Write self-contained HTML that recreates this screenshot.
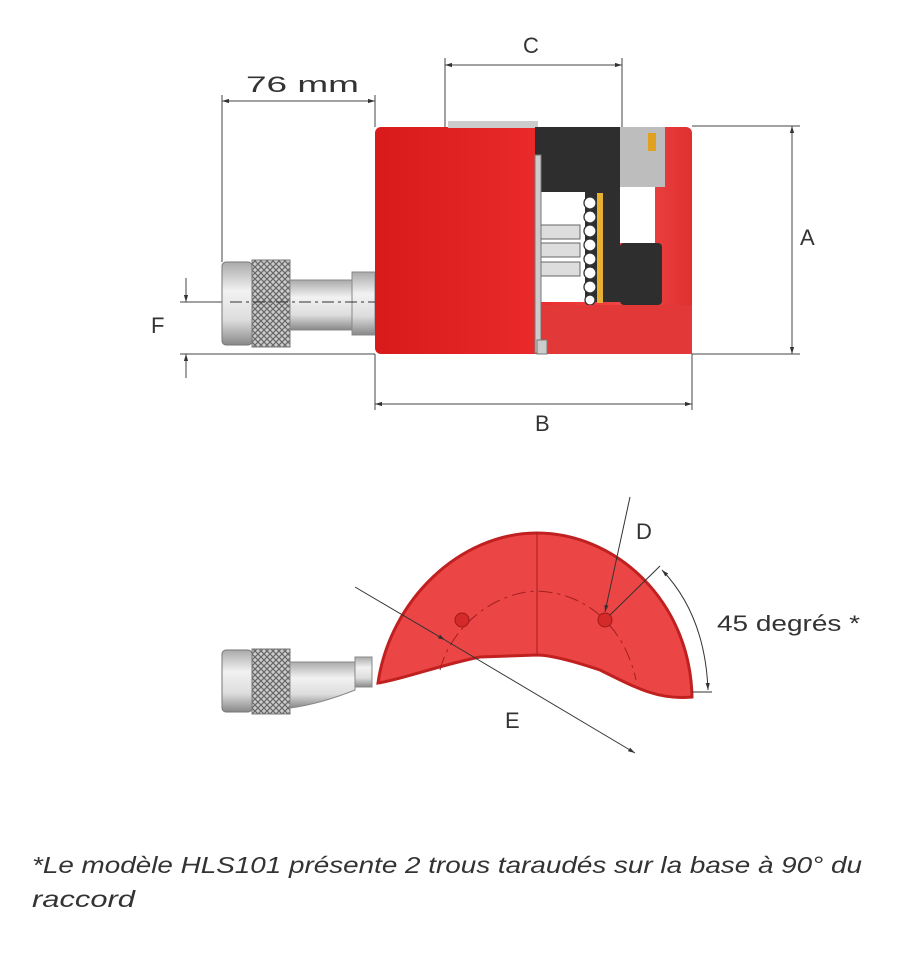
<!DOCTYPE html>
<html><head><style>
html,body{margin:0;padding:0;background:#fff;}
svg{display:block;}
text{font-family:"Liberation Sans",sans-serif;fill:#333;}
</style></head><body>
<svg width="900" height="962" viewBox="0 0 900 962" xmlns="http://www.w3.org/2000/svg">
<defs>
<linearGradient id="red" x1="0" x2="1" y1="0" y2="0">
<stop offset="0" stop-color="#d81a1a"/><stop offset="0.5" stop-color="#ea2a2a"/><stop offset="0.8" stop-color="#f04848"/><stop offset="1" stop-color="#e03030"/>
</linearGradient>
<linearGradient id="steel" x1="0" x2="0" y1="0" y2="1">
<stop offset="0" stop-color="#aaa"/><stop offset="0.35" stop-color="#f2f2f2"/><stop offset="0.7" stop-color="#ddd"/><stop offset="1" stop-color="#888"/>
</linearGradient>
<pattern id="knurl" width="6" height="6" patternUnits="userSpaceOnUse">
<rect width="6" height="6" fill="#ccc"/><path d="M0 0L6 6M6 0L0 6" stroke="#666" stroke-width="1.2"/>
</pattern>
<marker id="ar" viewBox="0 0 10 10" refX="10" refY="5" markerWidth="7" markerHeight="7" orient="auto-start-reverse"><path d="M0 2L10 5L0 8z" fill="#333"/></marker>
</defs>
<g stroke="#444" stroke-width="1" fill="none">
<line x1="222" y1="95" x2="222" y2="262"/><line x1="375" y1="95" x2="375" y2="127"/>
<line x1="222" y1="101" x2="375" y2="101" marker-start="url(#ar)" marker-end="url(#ar)"/>
<line x1="445" y1="58" x2="445" y2="127"/><line x1="622" y1="58" x2="622" y2="127"/>
<line x1="445" y1="65" x2="622" y2="65" marker-start="url(#ar)" marker-end="url(#ar)"/>
<line x1="692" y1="126" x2="800" y2="126"/><line x1="692" y1="354" x2="800" y2="354"/>
<line x1="792" y1="126" x2="792" y2="354" marker-start="url(#ar)" marker-end="url(#ar)"/>
<line x1="375" y1="354" x2="375" y2="410"/><line x1="692" y1="354" x2="692" y2="410"/>
<line x1="375" y1="404" x2="692" y2="404" marker-start="url(#ar)" marker-end="url(#ar)"/>
<line x1="180" y1="302" x2="222" y2="302"/><line x1="180" y1="354" x2="375" y2="354"/>
<line x1="186" y1="278" x2="186" y2="302" marker-end="url(#ar)"/><line x1="186" y1="378" x2="186" y2="354" marker-end="url(#ar)"/>
</g>
<text x="246" y="92" font-size="22" textLength="113" lengthAdjust="spacingAndGlyphs">76 mm</text>
<text x="523" y="53" font-size="22">C</text>
<text x="800" y="245" font-size="22">A</text>
<text x="535" y="431" font-size="22">B</text>
<text x="151" y="333" font-size="22">F</text>
<rect x="222" y="262" width="30" height="83" rx="4" fill="url(#steel)" stroke="#777"/>
<rect x="252" y="260" width="38" height="87" fill="url(#knurl)" stroke="#777"/>
<rect x="290" y="280" width="62" height="50" fill="url(#steel)" stroke="#888"/>
<rect x="352" y="272" width="23" height="63" fill="url(#steel)" stroke="#888"/>
<line x1="230" y1="302" x2="415" y2="302" stroke="#333" stroke-dasharray="12 4 3 4"/>
<rect x="375" y="127" width="317" height="227" rx="6" fill="url(#red)"/>
<rect x="448" y="121" width="90" height="7" fill="#ccc"/>
<rect x="535" y="127" width="85" height="175" fill="#2e2e2e"/>
<rect x="620" y="243" width="42" height="62" rx="4" fill="#2e2e2e"/>
<rect x="620" y="127" width="45" height="60" fill="#bdbdbd"/>
<rect x="648" y="133" width="8" height="18" fill="#e0a020"/>
<rect x="620" y="187" width="35" height="56" fill="#fff"/>
<rect x="540" y="192" width="45" height="110" fill="#fff"/>
<g fill="#ddd" stroke="#666"><rect x="540" y="225" width="40" height="14"/><rect x="540" y="243" width="40" height="14"/><rect x="540" y="262" width="40" height="14"/></g>
<rect x="597" y="193" width="6" height="110" fill="#e8b030"/>
<g fill="#fff" stroke="#333" stroke-width="1.3">
<circle cx="590" cy="203" r="6"/><circle cx="590" cy="217" r="6"/><circle cx="590" cy="231" r="6"/><circle cx="590" cy="245" r="6"/><circle cx="590" cy="259" r="6"/><circle cx="590" cy="273" r="6"/><circle cx="590" cy="287" r="6"/><circle cx="590" cy="300" r="5"/></g>
<rect x="535" y="155" width="6" height="198" fill="#ccc" stroke="#777"/>
<rect x="555" y="305" width="137" height="49" fill="#e23838"/>
<rect x="541" y="305" width="14" height="49" fill="#e23838"/>
<rect x="537" y="340" width="10" height="14" fill="#ccc" stroke="#777"/>
<path d="M378 683C390 600 460 533 537 533C615 533 690 600 692 697C660 700 640 690 600 670C570 660 550 655 537 655L480 657C440 665 400 680 378 683Z" fill="#ec4545" stroke="#c02020" stroke-width="3"/>
<path d="M440 670C450 630 490 593 537 591C590 593 625 630 636 680" fill="none" stroke="#a02020" stroke-dasharray="14 5 3 5"/>
<line x1="537" y1="533" x2="537" y2="655" stroke="#a02020"/>
<circle cx="462" cy="620" r="7" fill="#d52a2a" stroke="#a01818"/><circle cx="605" cy="620" r="7" fill="#d52a2a" stroke="#a01818"/>
<rect x="222" y="650" width="30" height="62" rx="4" fill="url(#steel)" stroke="#777"/>
<rect x="252" y="649" width="38" height="65" fill="url(#knurl)" stroke="#777"/>
<path d="M290 662H355V690Q320 704 290 708Z" fill="url(#steel)" stroke="#888"/>
<rect x="355" y="657" width="17" height="30" fill="url(#steel)" stroke="#888"/>
<g stroke="#333" fill="none">
<line x1="355" y1="587" x2="445" y2="640" marker-end="url(#ar)"/>
<line x1="445" y1="640" x2="635" y2="753" marker-end="url(#ar)"/>
<line x1="630" y1="497" x2="605" y2="612" marker-end="url(#ar)"/>
<line x1="610" y1="615" x2="660" y2="566"/>
<path d="M662 570Q705 615 708 690" marker-start="url(#ar)" marker-end="url(#ar)"/>
<line x1="692" y1="692" x2="712" y2="692"/>
</g>
<text x="636" y="539" font-size="22">D</text>
<text x="717" y="631" font-size="22" textLength="143" lengthAdjust="spacingAndGlyphs">45 degrés *</text>
<text x="505" y="728" font-size="22">E</text>
<text x="32" y="873" font-size="23" font-style="italic" textLength="830" lengthAdjust="spacingAndGlyphs">*Le modèle HLS101 présente 2 trous taraudés sur la base à 90° du</text>
<text x="32" y="907" font-size="23" font-style="italic" textLength="103" lengthAdjust="spacingAndGlyphs">raccord</text>
</svg>
</body></html>
